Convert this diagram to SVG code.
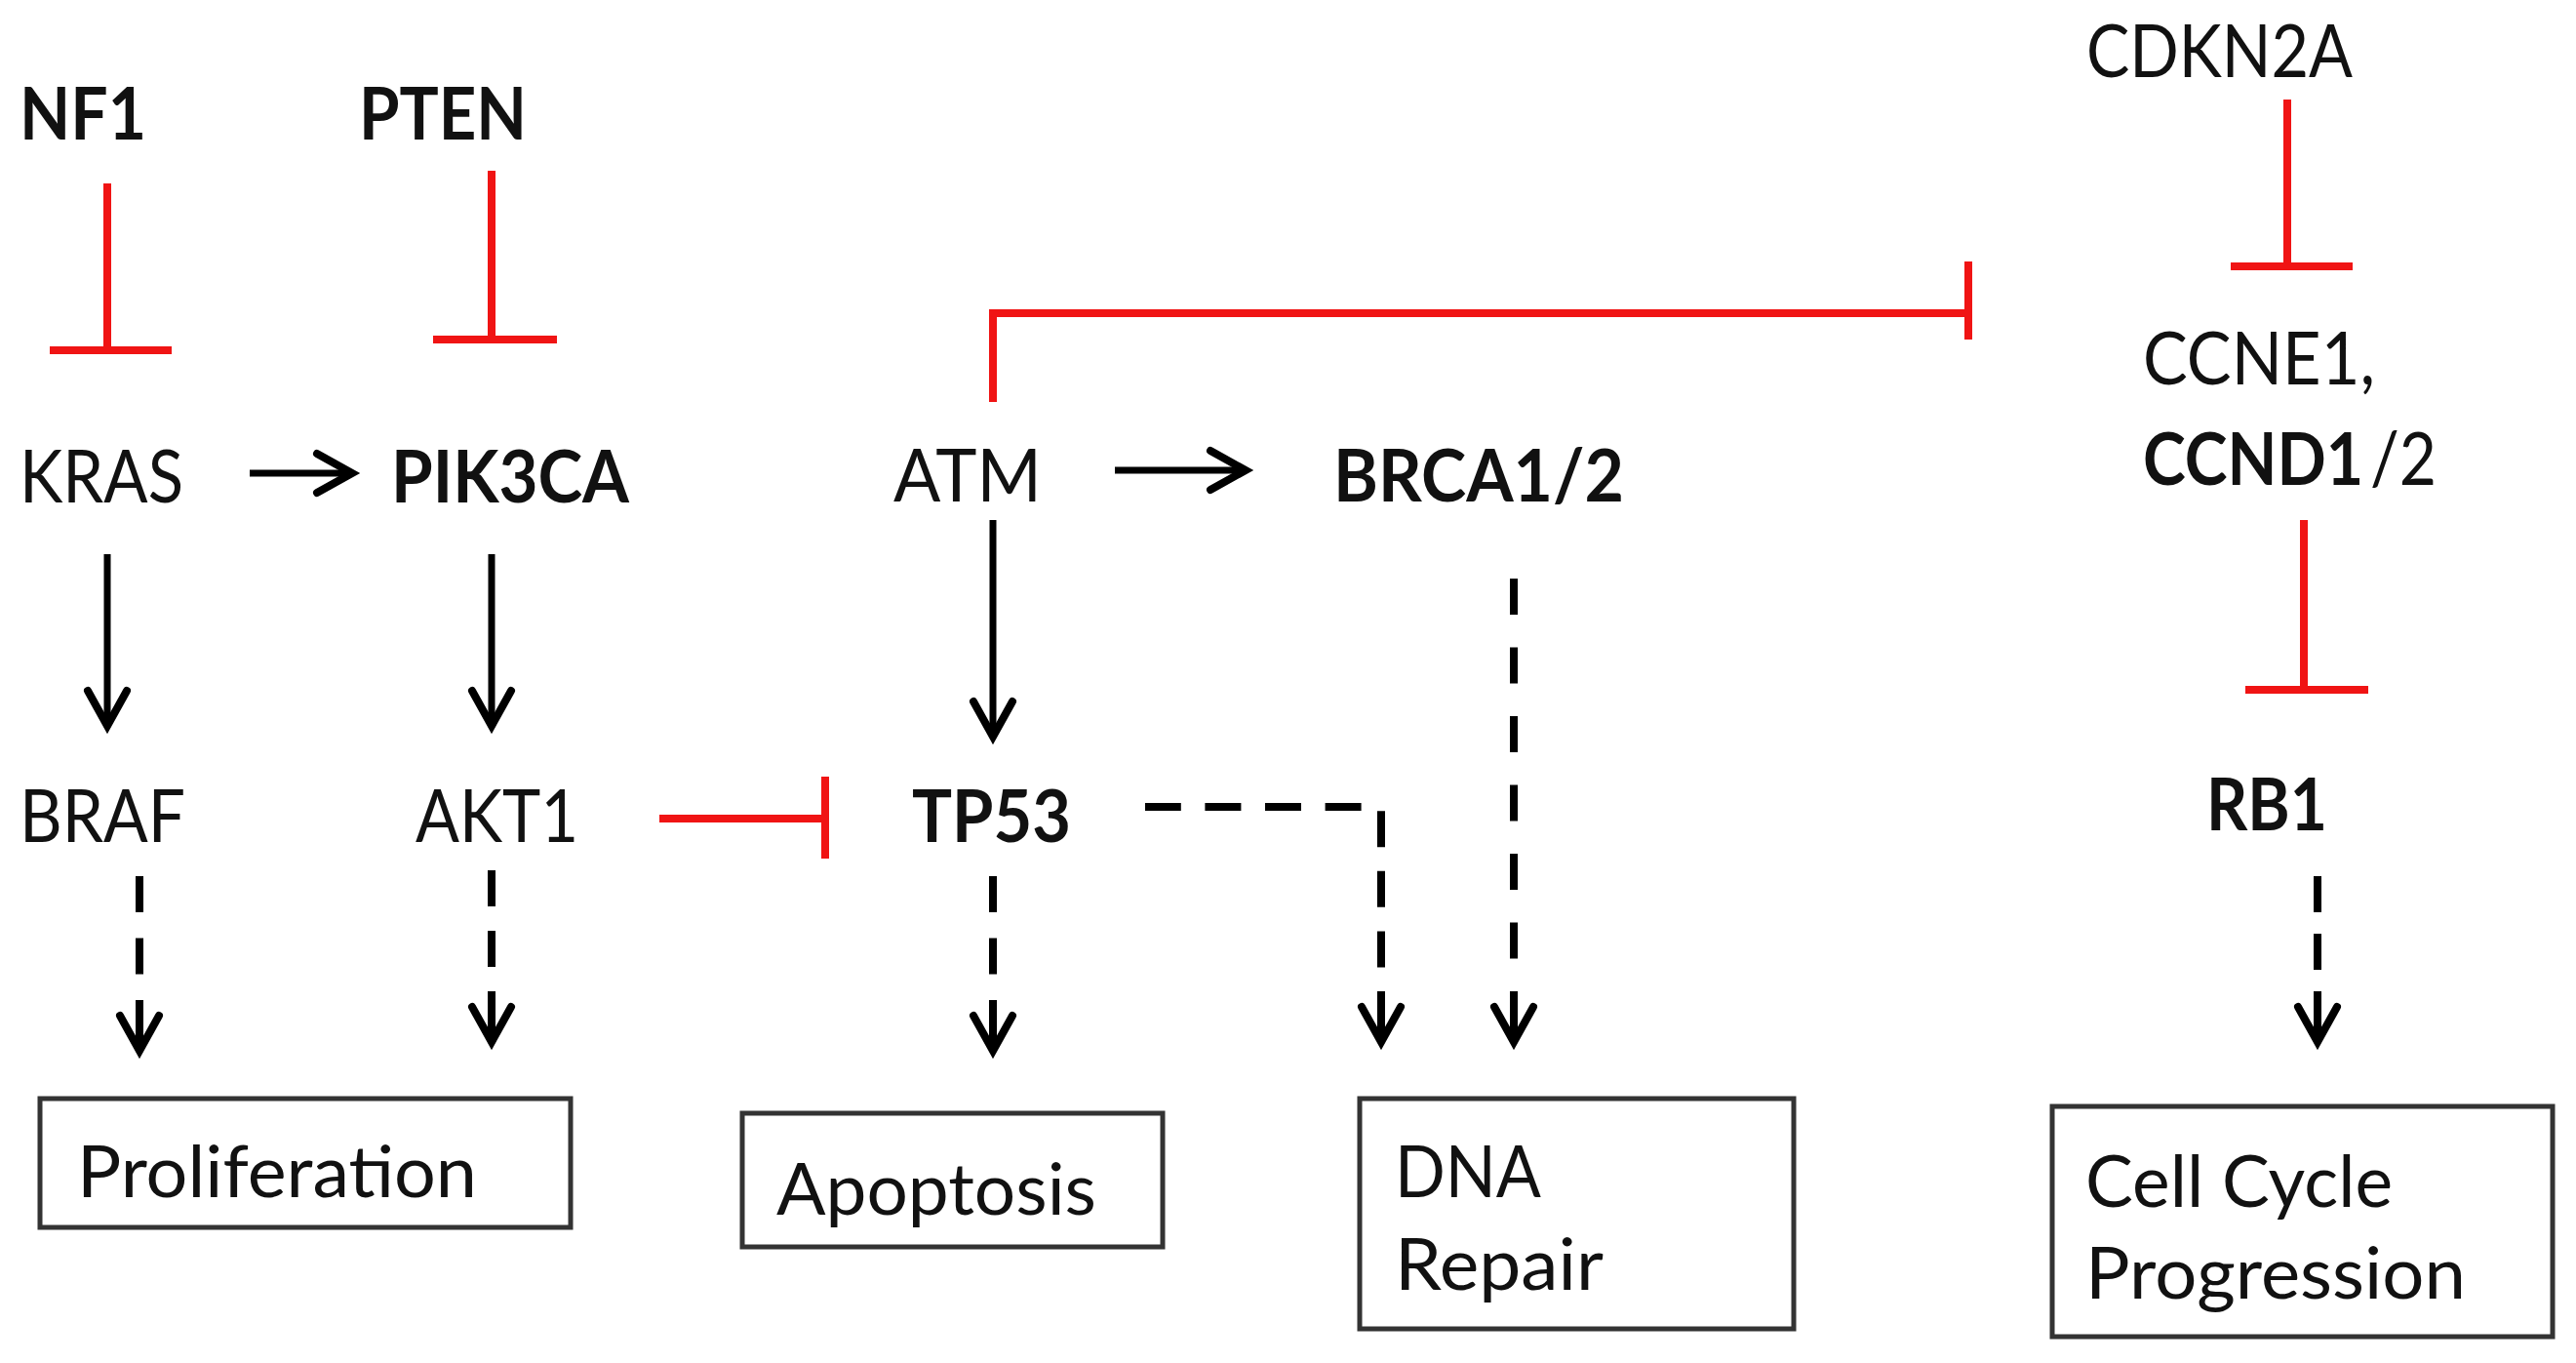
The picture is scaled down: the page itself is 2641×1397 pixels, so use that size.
<svg xmlns="http://www.w3.org/2000/svg" width="2641" height="1397" viewBox="0 0 2641 1397">
<style>
  .lbl{font-family:Lato,"Liberation Sans",sans-serif;font-size:75px;fill:#111}
  .b{font-weight:bold}
  .box{fill:#fff;stroke:#333;stroke-width:5}
  .bt{font-family:Lato,"Liberation Sans",sans-serif;font-size:73px;fill:#111}
  .act{fill:none;stroke:#000;stroke-width:7}
  .dash{fill:none;stroke:#000;stroke-width:8}
  .inh{fill:none;stroke:#f01414;stroke-width:8}
</style>
<defs>
  <marker id="ah" markerUnits="userSpaceOnUse" viewBox="-45 -30 50 60" markerWidth="50" markerHeight="60" refX="0" refY="0" orient="auto-start-reverse" overflow="visible">
    <path d="M-36,-20 L0,0 L-36,20" fill="none" stroke="#000" stroke-width="8" stroke-linecap="round" stroke-linejoin="miter" stroke-dasharray="none"/>
  </marker>
</defs>
<rect width="2641" height="1397" fill="#fff"/>

<g id="connectors">
  <!-- activation arrows -->
  <path class="act" d="M256,485 H361" marker-end="url(#ah)"/>
  <path class="act" d="M1143,482 H1277" marker-end="url(#ah)"/>
  <path class="act" d="M110,568 V744" marker-end="url(#ah)"/>
  <path class="act" d="M504,568 V744" marker-end="url(#ah)"/>
  <path class="act" d="M1018,533 V755" marker-end="url(#ah)"/>
  <!-- inhibition -->
  <path class="inh" d="M110,188 V359 M51,359 H176"/>
  <path class="inh" d="M504,175 V348 M444,348 H571"/>
  <path class="inh" d="M2345,102 V273 M2287,273 H2412"/>
  <path class="inh" d="M2362,533 V707 M2302,707 H2428"/>
  <path class="inh" d="M676,839 H846 M846,796 V880"/>
  <path class="inh" d="M1018,412 V321 H2018 M2018,268 V348"/>
  <!-- dashed outcome arrows (drawn from tip back to source) -->
  <path class="dash" style="stroke-dasharray:52 26.5 37 26.5 37 26.5" d="M143,1077 V898" marker-start="url(#ah)"/>
  <path class="dash" style="stroke-dasharray:52 25 37 25 37 25" d="M504,1068 V892" marker-start="url(#ah)"/>
  <path class="dash" style="stroke-dasharray:52 26.5 37 26.5 37 26.5" d="M1018,1077 V898" marker-start="url(#ah)"/>
  <path class="dash" style="stroke-dasharray:52 24.6 37 24.6 37 24.6 37 24.6 37 24.6 37 24.6 37 24.6 37 24.6 37 24.6" d="M1416,1068 V827 H1174" marker-start="url(#ah)"/>
  <path class="dash" style="stroke-dasharray:52 33.5 37 33.5 37 33.5 37 33.5 37 33.5 37 33.5 37 33.5 37 33.5" d="M1552,1068 V593" marker-start="url(#ah)"/>
  <path class="dash" style="stroke-dasharray:52 22 37 22 37 22" d="M2376,1068 V898" marker-start="url(#ah)"/>
</g>

<g id="NF1"><text class="lbl b" x="20" y="143" textLength="130" lengthAdjust="spacingAndGlyphs">NF1</text></g>
<g id="PTEN"><text class="lbl b" x="368" y="143" textLength="172" lengthAdjust="spacingAndGlyphs">PTEN</text></g>
<g id="CDKN2A"><text class="lbl" x="2139" y="79" textLength="273" lengthAdjust="spacingAndGlyphs">CDKN2A</text></g>
<g id="KRAS"><text class="lbl" x="20" y="515" textLength="168" lengthAdjust="spacingAndGlyphs">KRAS</text></g>
<g id="PIK3CA"><text class="lbl b" x="401" y="515" textLength="244" lengthAdjust="spacingAndGlyphs">PIK3CA</text></g>
<g id="ATM"><text class="lbl" x="916" y="514" textLength="152" lengthAdjust="spacingAndGlyphs">ATM</text></g>
<g id="BRCA"><text class="lbl b" x="1367" y="514" textLength="298" lengthAdjust="spacingAndGlyphs">BRCA1/2</text></g>
<g id="CCNE1_CCND"><text class="lbl" x="2197" y="394" textLength="238" lengthAdjust="spacingAndGlyphs">CCNE1,</text><text class="lbl b" x="2197" y="497" textLength="226" lengthAdjust="spacingAndGlyphs">CCND1</text><text class="lbl" x="2430" y="497" textLength="68" lengthAdjust="spacingAndGlyphs">/2</text></g>
<g id="BRAF"><text class="lbl" x="20" y="863" textLength="170" lengthAdjust="spacingAndGlyphs">BRAF</text></g>
<g id="AKT1"><text class="lbl" x="426" y="863" textLength="167" lengthAdjust="spacingAndGlyphs">AKT1</text></g>
<g id="TP53"><text class="lbl b" x="935" y="863" textLength="163" lengthAdjust="spacingAndGlyphs">TP53</text></g>
<g id="RB1"><text class="lbl b" x="2262" y="851" textLength="124" lengthAdjust="spacingAndGlyphs">RB1</text></g>

<g id="proliferation"><rect class="box" x="41" y="1126" width="544" height="132"/><text class="bt" x="79" y="1227" textLength="410" lengthAdjust="spacingAndGlyphs">Proliferation</text></g>
<g id="apoptosis"><rect class="box" x="761" y="1141" width="431" height="137"/><text class="bt" x="796" y="1245" textLength="328" lengthAdjust="spacingAndGlyphs">Apoptosis</text></g>
<g id="dna_repair"><rect class="box" x="1394" y="1126" width="445" height="236"/><text class="bt" x="1430" y="1227" textLength="150" lengthAdjust="spacingAndGlyphs">DNA</text><text class="bt" x="1430" y="1322" textLength="214" lengthAdjust="spacingAndGlyphs">Repair</text></g>
<g id="cell_cycle"><rect class="box" x="2104" y="1134" width="513" height="236"/><text class="bt" x="2138" y="1237" textLength="315" lengthAdjust="spacingAndGlyphs">Cell Cycle</text><text class="bt" x="2138" y="1331" textLength="390" lengthAdjust="spacingAndGlyphs">Progression</text></g>
</svg>
